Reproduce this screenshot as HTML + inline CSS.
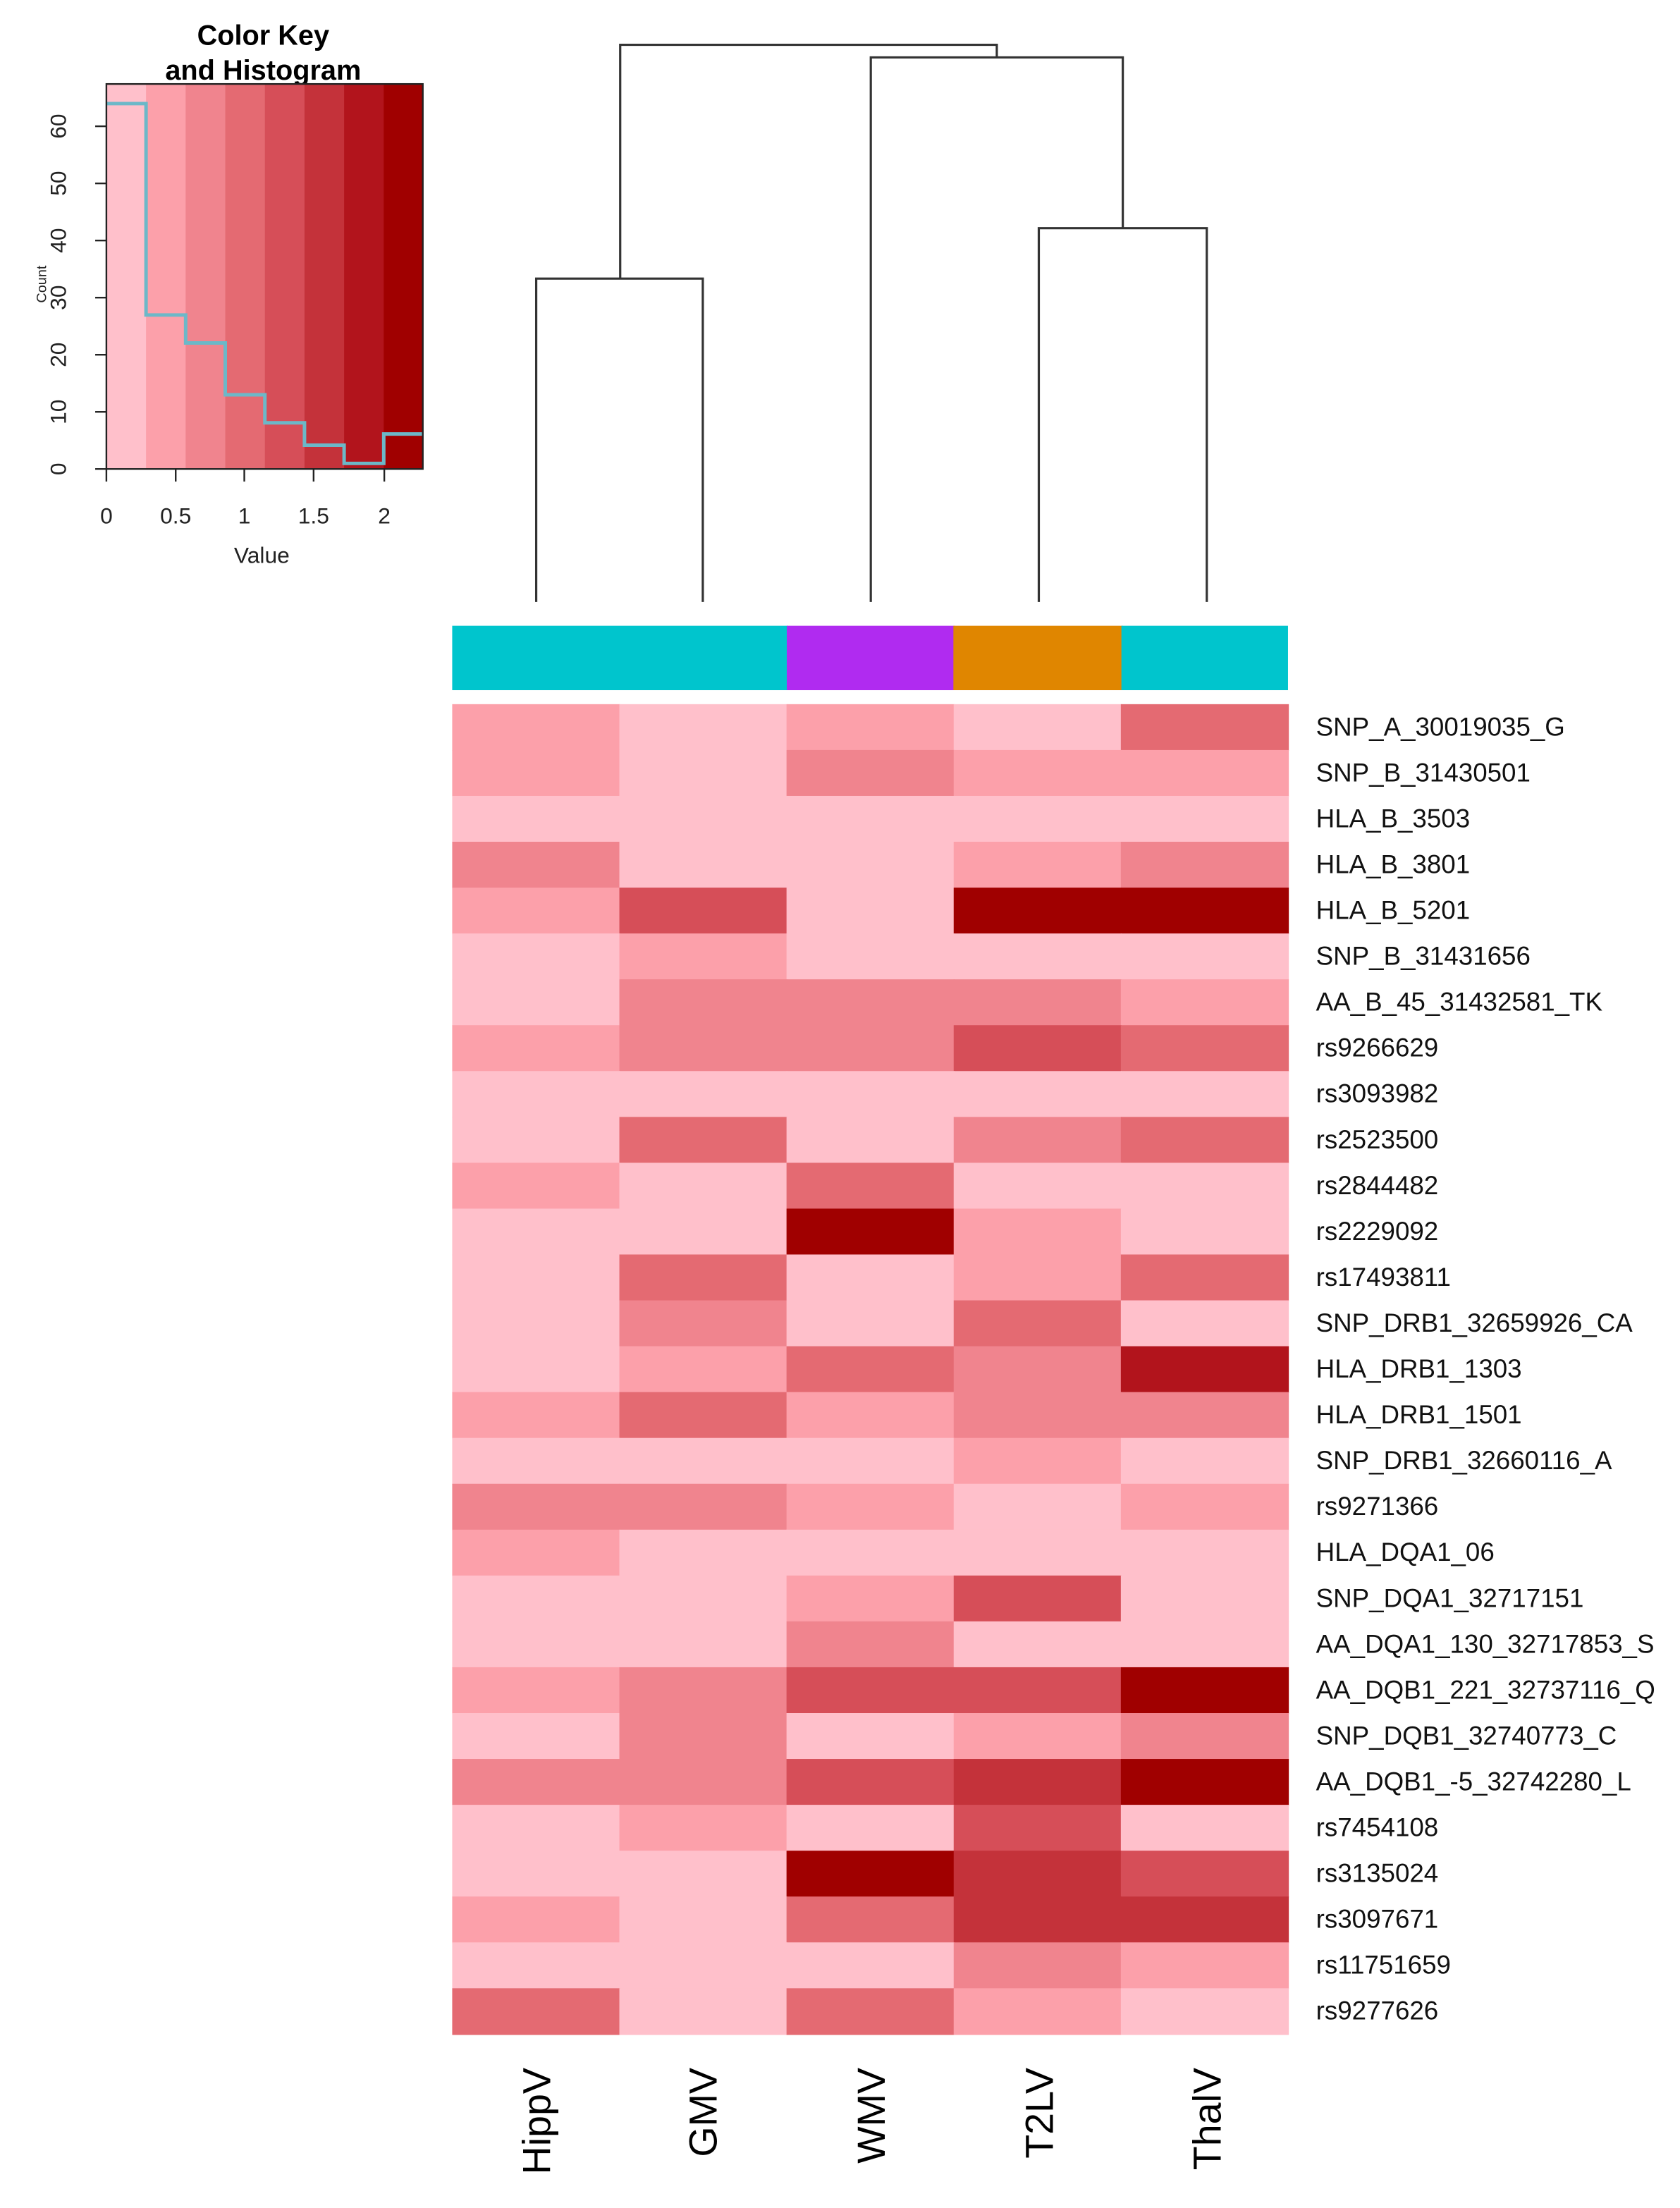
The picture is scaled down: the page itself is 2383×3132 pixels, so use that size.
<!DOCTYPE html>
<html><head><meta charset="utf-8"><style>
html,body{margin:0;padding:0;background:#fff;}
svg{display:block;}
text{font-family:"Liberation Sans",sans-serif;}
</style></head><body>
<svg width="2383" height="3132" viewBox="0 0 1200 1577.2" preserveAspectRatio="none" xmlns="http://www.w3.org/2000/svg">
<text x="188" y="32" font-size="20" font-weight="bold" text-anchor="middle">Color Key</text>
<text x="188" y="57" font-size="20" font-weight="bold" text-anchor="middle">and Histogram</text>
<g>
<rect x="76" y="60" width="28.5" height="275" fill="#ffc0cb"/>
<rect x="104.3" y="60" width="28.5" height="275" fill="#fca0aa"/>
<rect x="132.6" y="60" width="28.5" height="275" fill="#f0848e"/>
<rect x="160.9" y="60" width="28.5" height="275" fill="#e46a72"/>
<rect x="189.2" y="60" width="28.5" height="275" fill="#d64e58"/>
<rect x="217.5" y="60" width="28.5" height="275" fill="#c4323a"/>
<rect x="245.8" y="60" width="28.5" height="275" fill="#b2141c"/>
<rect x="274.1" y="60" width="27.9" height="275" fill="#a00000"/>
</g>
<polyline fill="none" stroke="#6cb8c8" stroke-width="2.5" points="76,74 104.3,74 104.3,225 132.6,225 132.6,245 160.9,245 160.9,282 189.2,282 189.2,302 217.5,302 217.5,318 245.8,318 245.8,331 274.1,331 274.1,310 302,310"/>
<rect x="76" y="60" width="226" height="275" fill="none" stroke="#222" stroke-width="1.2"/>
<g stroke="#222" stroke-width="1.2">
<line x1="68" y1="335" x2="76" y2="335"/><line x1="68" y1="294.2" x2="76" y2="294.2"/><line x1="68" y1="253.4" x2="76" y2="253.4"/><line x1="68" y1="212.6" x2="76" y2="212.6"/><line x1="68" y1="171.8" x2="76" y2="171.8"/><line x1="68" y1="131" x2="76" y2="131"/><line x1="68" y1="90.2" x2="76" y2="90.2"/>
<line x1="76" y1="335" x2="76" y2="344"/><line x1="125.5" y1="335" x2="125.5" y2="344"/><line x1="174.5" y1="335" x2="174.5" y2="344"/><line x1="224" y1="335" x2="224" y2="344"/><line x1="274.5" y1="335" x2="274.5" y2="344"/>
</g>
<g font-size="16" fill="#222" text-anchor="middle">
<text transform="translate(47,335) rotate(-90)">0</text>
<text transform="translate(47,294.2) rotate(-90)">10</text>
<text transform="translate(47,253.4) rotate(-90)">20</text>
<text transform="translate(47,212.6) rotate(-90)">30</text>
<text transform="translate(47,171.8) rotate(-90)">40</text>
<text transform="translate(47,131) rotate(-90)">50</text>
<text transform="translate(47,90.2) rotate(-90)">60</text>
<text transform="translate(33,203) rotate(-90)" font-size="10">Count</text>
<text x="76" y="374">0</text><text x="125.5" y="374">0.5</text><text x="174.5" y="374">1</text><text x="224" y="374">1.5</text><text x="274.5" y="374">2</text>
<text x="187" y="402">Value</text>
</g>
<g fill="none" stroke="#333" stroke-width="1.6">
<polyline points="383,430 383,199 502,199 502,430"/>
<polyline points="742,430 742,163 862,163 862,430"/>
<polyline points="622,430 622,41 802,41 802,163"/>
<polyline points="443,199 443,32 712,32 712,41"/>
</g>
<rect x="323" y="447" width="240" height="46" fill="#00c5cd"/>
<rect x="562" y="447" width="120" height="46" fill="#b02bf0"/>
<rect x="681" y="447" width="121" height="46" fill="#e08600"/>
<rect x="801" y="447" width="119" height="46" fill="#00c5cd"/>
<g id="hm"></g>
<g id="lab" font-size="18.5" fill="#111"></g>
<g font-size="28" fill="#000" text-anchor="end">
<text transform="translate(383,1477) rotate(-90)" dy="10">HippV</text>
<text transform="translate(502,1477) rotate(-90)" dy="10">GMV</text>
<text transform="translate(622,1477) rotate(-90)" dy="10">WMV</text>
<text transform="translate(742,1477) rotate(-90)" dy="10">T2LV</text>
<text transform="translate(862,1477) rotate(-90)" dy="10">ThalV</text>
</g>
</svg>
<script>
var C=["#ffc0cb","#fca0aa","#f0848e","#e46a72","#d64e58","#c4323a","#b2141c","#a00000"];
var D=[["SNP_A_30019035_G",[1,0,1,0,3]],["SNP_B_31430501",[1,0,2,1,1]],["HLA_B_3503",[0,0,0,0,0]],["HLA_B_3801",[2,0,0,1,2]],["HLA_B_5201",[1,4,0,7,7]],["SNP_B_31431656",[0,1,0,0,0]],["AA_B_45_31432581_TK",[0,2,2,2,1]],["rs9266629",[1,2,2,4,3]],["rs3093982",[0,0,0,0,0]],["rs2523500",[0,3,0,2,3]],["rs2844482",[1,0,3,0,0]],["rs2229092",[0,0,7,1,0]],["rs17493811",[0,3,0,1,3]],["SNP_DRB1_32659926_CA",[0,2,0,3,0]],["HLA_DRB1_1303",[0,1,3,2,6]],["HLA_DRB1_1501",[1,3,1,2,2]],["SNP_DRB1_32660116_A",[0,0,0,1,0]],["rs9271366",[2,2,1,0,1]],["HLA_DQA1_06",[1,0,0,0,0]],["SNP_DQA1_32717151",[0,0,1,4,0]],["AA_DQA1_130_32717853_S",[0,0,2,0,0]],["AA_DQB1_221_32737116_Q",[1,2,4,4,7]],["SNP_DQB1_32740773_C",[0,2,0,1,2]],["AA_DQB1_-5_32742280_L",[2,2,4,5,7]],["rs7454108",[0,1,0,4,0]],["rs3135024",[0,0,7,5,4]],["rs3097671",[1,0,3,5,5]],["rs11751659",[0,0,0,2,1]],["rs9277626",[3,0,3,1,0]]];
var ns="http://www.w3.org/2000/svg",hm=document.getElementById("hm"),lab=document.getElementById("lab");
var top0=503,rh=(1453-503)/29,cw=(920-323)/5;
D.forEach(function(r,i){
 r[1].forEach(function(v,j){var e=document.createElementNS(ns,"rect");
  e.setAttribute("x",323+j*cw);e.setAttribute("y",top0+i*rh);e.setAttribute("width",cw+0.6);e.setAttribute("height",rh+0.6);e.setAttribute("fill",C[v]);hm.appendChild(e);});
 var t=document.createElementNS(ns,"text");t.setAttribute("x",940);t.setAttribute("y",top0+i*rh+rh/2+6);t.textContent=r[0];lab.appendChild(t);
});
</script>
</body></html>
